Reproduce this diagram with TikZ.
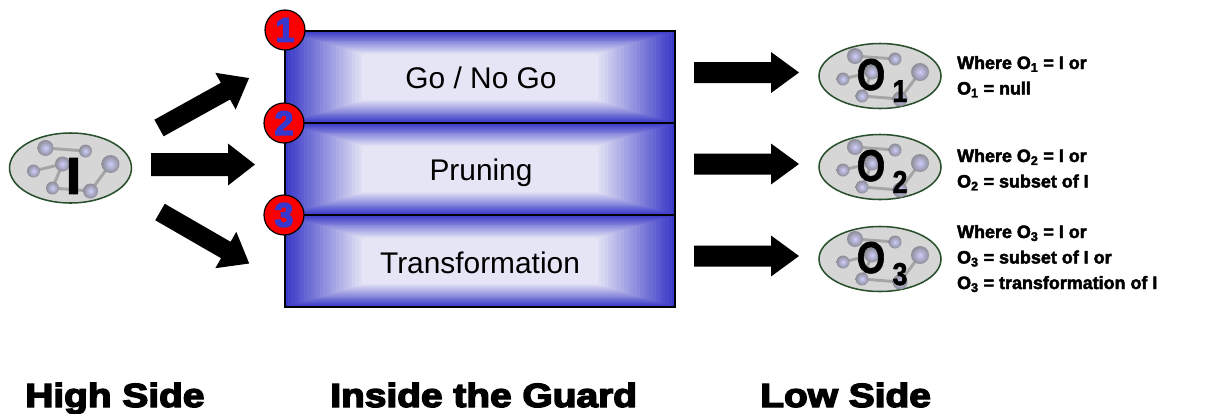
\documentclass[tikz,border=0pt]{standalone}
\usepackage{fontspec}
\setmainfont{Liberation Sans}
\newfontfamily\heavyfont{Liberation Sans Bold}[FakeBold=1.5]
\newfontfamily\blackfont{Liberation Sans Bold}[FakeBold=4]
\newfontfamily\sidefont{Liberation Sans Bold}[FakeBold=2.5]
\usetikzlibrary{shapes.geometric}
\definecolor{gblue}{RGB}{58,58,200}
\definecolor{glight}{RGB}{236,236,248}
\definecolor{numred}{RGB}{250,0,0}
\definecolor{numblue}{RGB}{55,55,205}
\definecolor{ellfill}{RGB}{214,214,214}
\definecolor{ellline}{RGB}{40,80,45}
\definecolor{ballin}{RGB}{205,205,252}
\definecolor{ballout}{RGB}{140,140,150}
\definecolor{linkc}{RGB}{165,165,165}
\tikzset{
  barrow/.pic={
    \fill[black] (0,-\sh) -- (#1-\hl,-\sh) -- (#1-\hl,-\hh) -- (#1,0) -- (#1-\hl,\hh) -- (#1-\hl,\sh) -- (0,\sh) -- cycle;
  },
  cloud/.pic={
    \draw[linkc, line width=2.5] (-25,-20) -- (15,-17);
    \draw[linkc, line width=2.5] (-8,-4) -- (-37,3);
    \draw[linkc, line width=2.5] (-8,-4) -- (-18,20);
    \draw[linkc, line width=2.5] (40,-4) -- (20,23);
    \draw[linkc, line width=2.5] (-18,20) -- (20,23);
    \foreach \bx/\by/\br in {-25/-20/8, 15/-17/6.5, -8/-4/7.5, 40/-4/9, -37/3/6.5, -18/20/6.5, 20/23/7.5}{
      \shade[inner color=ballin, outer color=ballout] (\bx,\by) circle (\br);
    }
  },
  ellnode/.style={ellipse, draw=ellline, fill=ellfill, line width=1.3pt, inner sep=0},
  numc/.style={circle, fill=numred, draw=black, line width=1pt, minimum size=1.2cm, inner sep=0,
    text=numblue, font=\blackfont\fontsize{29}{29}\selectfont},
  boxtext/.style={anchor=base, font=\fontsize{25.5}{25.5}\selectfont},
  sidetext/.style={anchor=base west, font=\sidefont\fontsize{15.3}{15.3}\selectfont},
  bottomtext/.style={anchor=base west, inner sep=0, xscale=1.16, font=\blackfont\fontsize{28.6}{28.6}\selectfont},
}
\begin{document}
\begin{tikzpicture}[x=0.03cm,y=-0.03cm]
\useasboundingbox (0,0) rectangle (1207,413);
\fill[white] (0,0) rectangle (1207,413);
% guard box rows with rectangular gradient
\foreach \ty in {31,123,215}{
  \foreach \k in {0,...,24}{
    \pgfmathsetmacro\p{100-4*\k}
    \fill[gblue!\p!glight] (285+3.2*\k,\ty+0.95*\k) rectangle (675-3.2*\k,\ty+92-0.95*\k);
  }
}
\draw[black, line width=1.3pt] (285,31) rectangle (675,307);
\draw[black, line width=1.3pt] (285,123) -- (675,123);
\draw[black, line width=1.3pt] (285,215) -- (675,215);
\node[boxtext] (go) at (481,88) {Go / No Go};
\node[boxtext] (prune) at (481,180) {Pruning};
\node[boxtext] (trans) at (480,273) {Transformation};
% numbered circles
\node[numc] (n1) at (285,30) {1};
\node[numc] (n2) at (284,123) {2};
\node[numc] (n3) at (284,215) {3};
% high side input
\node[ellnode, minimum width=3.66cm, minimum height=2.1cm] (inp) at (70.5,168) {};
\pic at (70.5,168) {cloud};
\node[font=\blackfont\fontsize{43}{43}\selectfont, inner sep=0] (Ilab) at (73.5,176) {I};
% left arrows
\def\sh{9.5}\def\hh{21}\def\hl{27}
\pic[rotate=29] (ua) at (159,128) {barrow=103};
\pic[rotate=-30] (la) at (160,212) {barrow=103};
\def\sh{11.5}\def\hh{21}\def\hl{27}
\pic (ma) at (151,164.5) {barrow=104};
% right arrows
\def\sh{10.5}\def\hh{20.5}\def\hl{28}
\pic (r1) at (694,72.5) {barrow=105};
\pic (r2) at (694,164) {barrow=105};
\pic (r3) at (694,256) {barrow=105};
% output ellipses
\foreach \i/\cy in {1/76,2/167,3/259}{
  \node[ellnode, minimum width=3.66cm, minimum height=1.95cm] (o\i) at (880,\cy) {};
  \pic at (880,\cy) {cloud};
  \node[anchor=base, inner sep=0, xscale=0.82, font=\heavyfont\fontsize{38}{38}\selectfont] (oL\i) at (871,\cy+14) {O};
  \node[anchor=base, inner sep=0, xscale=0.85, font=\heavyfont\fontsize{27}{27}\selectfont] (oS\i) at (900,\cy+26) {\i};
}
% side texts
\node[sidetext] (t11) at (953,69) {Where O\textsubscript{1} = I or};
\node[sidetext] (t12) at (953,94.5) {O\textsubscript{1} = null};
\node[sidetext] (t21) at (953,162) {Where O\textsubscript{2} = I or};
\node[sidetext] (t22) at (953,187.5) {O\textsubscript{2} = subset of I};
\node[sidetext] (t31) at (953,238) {Where O\textsubscript{3} = I or};
\node[sidetext] (t32) at (953,263.5) {O\textsubscript{3} = subset of I or};
\node[sidetext] (t33) at (953,289) {O\textsubscript{3} = transformation of I};
% bottom labels
\node[bottomtext] (high) at (25,407) {High Side};
\node[bottomtext] (inside) at (330,407) {Inside the Guard};
\node[bottomtext] (low) at (760,407) {Low Side};
\end{tikzpicture}
\end{document}
